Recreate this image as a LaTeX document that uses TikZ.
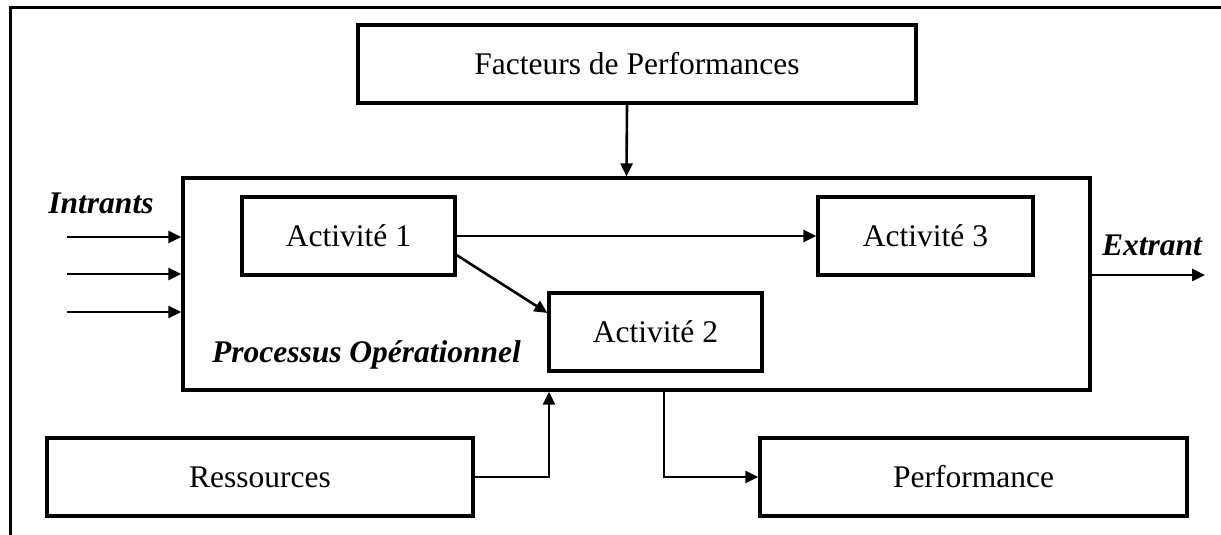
\documentclass[tikz,border=0pt]{standalone}
\usepackage{fontspec}
\setmainfont{Liberation Serif}
\usepackage{tikz}
\usetikzlibrary{arrows.meta,calc,positioning}

\begin{document}
\begin{tikzpicture}[x=1pt,y=1pt,line cap=butt,line join=miter,
  >={Triangle[length=13pt,width=12pt]},
  bloc/.style={draw,line width=3.2pt,fill=white,inner sep=0pt,
    minimum height=78pt,font=\fontsize{31.5}{36}\selectfont},
  lien/.style={line width=2.6pt,->},
  titre/.style={font=\fontsize{31.5}{36}\selectfont\bfseries\itshape}]
\useasboundingbox (0,0) rectangle (1221,535);
%cadre
\draw[line width=3pt] (10,0) -- (10,527) -- (1221,527);
\node[bloc,minimum width=558pt] (fact) at (637,471) {Facteurs de Performances};
\node[bloc,minimum width=907pt,minimum height=212pt] (proc) at (636.5,251) {};
\node[bloc,minimum width=213pt] (act1) at (348.5,299) {Activit\'e 1};
\node[bloc,minimum width=213pt] (act2) at (655.5,203) {Activit\'e 2};
\node[bloc,minimum width=215pt] (act3) at (925.5,299) {Activit\'e 3};
\node[bloc,minimum width=426pt] (res) at (260,58) {Ressources};
\node[bloc,minimum width=427pt] (perf) at (973.5,58) {Performance};
\node[titre] (intr) at (101,332) {Intrants};
\node[titre] (procl) at (366.5,180) {Processus Op\'erationnel};
\node[titre] (extr) at (1152,290) {Extrant};
%entrees
\coordinate (in1) at (67,298);
\coordinate (in2) at (67,261);
\coordinate (in3) at (67,223);
\foreach \i in {1,2,3}
  \draw[lien] (in\i) -- (in\i -| proc.west);
\coordinate (out) at (1205,260);
\draw[lien] (out -| proc.east) -- (out);
\draw[lien] ([xshift=-10pt]fact.south) -- ([xshift=-10pt]proc.north);
\draw[lien] (act1.east) -- (act1.east -| act3.west);
\draw[lien] (act1.-10) -- (act2.170);
%ressources et performance
\coordinate (r1) at (549,58);
\coordinate (p1) at (664,58);
\draw[lien] (res.east) -- (r1) -- (r1 |- proc.south);
\draw[lien] (p1 |- proc.south) -- (p1) -- (perf.west);
\end{tikzpicture}
\end{document}
